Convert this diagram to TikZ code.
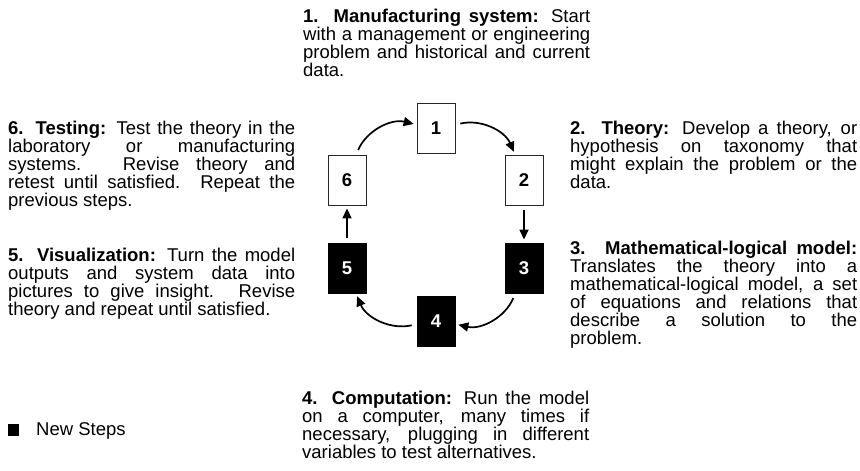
\documentclass[tikz,border=0pt]{standalone}
\usepackage{fontspec}
\setmainfont{Liberation Sans}
\usetikzlibrary{arrows.meta, positioning}

\tikzset{
  stepbox/.style={draw=black!85, line width=0.9pt, fill=white, minimum width=38pt,
    minimum height=50pt, inner sep=0pt, font=\fontsize{18.5}{18}\selectfont\bfseries},
  newbox/.style={stepbox, draw=black, fill=black, text=white},
  cyc/.style={-{Triangle[length=10pt, width=9pt]}, line width=1.7pt,
    shorten <=5pt, shorten >=3pt},
  desc/.style={text width=287pt, inner sep=0pt, align=justify, anchor=base west,
    font=\fontsize{18.5}{18}\selectfont},
}

\begin{document}
\begin{tikzpicture}[x=1pt, y=1pt]

\useasboundingbox (0,0) rectangle (860,471);

% Cycle of steps
\node[stepbox] (n1) at (436,343) {1};
\node[stepbox] (n2) at (524,291) {2};
\node[newbox]  (n3) at (524,203) {3};
\node[newbox]  (n4) at (436,150) {4};
\node[newbox]  (n5) at (347,203) {5};
\node[stepbox] (n6) at (347,291) {6};

\draw[cyc] (n1) to[bend left=40] (n2);
\draw[cyc] (n2) -- (n3);
\draw[cyc] (n3) to[bend left=40] (n4);
\draw[cyc] (n4) to[bend left=40] (n5);
\draw[cyc] (n5) -- (n6);
\draw[cyc] (n6) to[bend left=40] (n1);

% Descriptions
\node[desc] (t1) at (303,448) {\textbf{1. Manufacturing system:} Start\linebreak
  with a management or engineering\linebreak
  problem and historical and current\linebreak
  data.};
\node[desc] (t2) at (570,336) {\textbf{2. Theory:} Develop a theory, or\linebreak
  hypothesis on taxonomy that\linebreak
  might explain the problem or the\linebreak
  data.};
\node[desc] (t3) at (570,216) {\textbf{3. Mathematical-logical model:}\linebreak
  Translates the theory into a\linebreak
  mathematical-logical model, a set\linebreak
  of equations and relations that\linebreak
  describe a solution to the\linebreak
  problem.};
\node[desc] (t4) at (302,66) {\textbf{4. Computation:} Run the model\linebreak
  on a computer, many times if\linebreak
  necessary, plugging in different\linebreak
  variables to test alternatives.};
\node[desc] (t5) at (8,209) {\textbf{5. Visualization:} Turn the model\linebreak
  outputs and system data into\linebreak
  pictures to give insight. Revise\linebreak
  theory and repeat until satisfied.};
\node[desc] (t6) at (8,336) {\textbf{6. Testing:} Test the theory in the\linebreak
  laboratory or manufacturing\linebreak
  systems. Revise theory and\linebreak
  retest until satisfied. Repeat the\linebreak
  previous steps.};

% Legend
\fill[black] (8,35) rectangle (19,47);
\node[anchor=base west, inner sep=0pt, font=\fontsize{18.5}{18}\selectfont] (key) at (36,35) {New Steps};

\end{tikzpicture}
\end{document}
